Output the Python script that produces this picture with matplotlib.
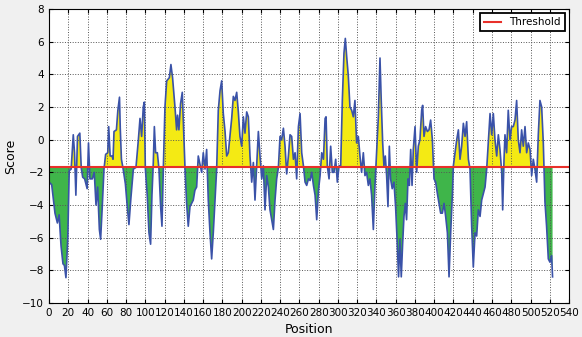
import numpy as np
from matplotlib import pyplot as plt

threshold = -1.7

position = [0, 2.8, 6.2, 8.7, 10.5, 12.5, 14.5, 16, 17.6, 19.5, 21, 23, 25.2, 26.5, 27.9, 29.6,
            32, 33.5, 35, 37, 39.6, 41, 42.5, 45, 47, 48.8, 50.5, 52.3, 53.6, 55.3, 57.1, 58.8,
            61, 62, 63.5, 65.5, 66.5, 67.5, 70, 71.5, 73.2, 74, 75.2, 77, 79.3, 81, 83, 85,
            87.6, 90.3, 92.8, 94.5, 96.2, 97.9, 99, 100, 102, 103.8, 105.5, 106.9, 108.3, 109.4,
            110.7, 112.5, 114.2, 115.9, 117.3, 118.7, 120.4, 122.2, 125, 126.6, 128.3, 130.8,
            132.5, 133.5, 134.9, 136.6, 138.4, 140.1, 141.2, 142.9, 144.6, 146.4, 148.1, 149.8,
            151.5, 153.3, 155, 156.7, 158.5, 160.2, 162, 163.7, 165.4, 167.2, 168.9, 170.6,
            172.4, 174.1, 175.8, 177.6, 179.3, 181, 182.8, 184.5, 186.2, 187.9, 189.7, 191.4,
            193.1, 194.9, 196.6, 198.3, 200.1, 201.8, 203.5, 205.3, 207, 208.7, 210.5, 212.2,
            213.9, 215.7, 217.4, 219.1, 220.9, 222.6, 224.3, 226.1, 227.8, 229.5, 231.2, 233,
            234.7, 236.4, 238.2, 239.9, 241.6, 243.4, 245.1, 246.8, 248.6, 250.3, 252, 253.8,
            255.5, 257.2, 259, 260.7, 262.4, 264.2, 265.9, 267.6, 269.4, 271.1, 272.8, 274.6,
            276.3, 278, 279.8, 281.5, 283.2, 285, 286.7, 287.7, 289, 290.8, 292.5, 294.2, 296,
            297.7, 299.4, 301.2, 302.9, 304.6, 306.3, 307.7, 309.1, 310.8, 312.5, 314.3, 316,
            317.7, 319.4, 321.2, 322.9, 324.6, 326.4, 328.1, 329.8, 331.6, 333.3, 335, 336.8,
            338.5, 340.2, 342, 343.7, 345, 346.5, 347.8, 349.2, 350.6, 352, 353.4, 354.7, 356.4,
            358.2, 359.9, 361.6, 363, 364.4, 365.8, 367.2, 368.6, 370, 371.3, 372.8, 374.2,
            375.6, 377, 378.3, 380.1, 381.8, 383.5, 385.2, 387, 388, 389.4, 391.1, 392.9, 394.6,
            396.3, 398.1, 399.8, 401.5, 403.3, 405, 406.7, 408.5, 410.2, 411.9, 413.7, 415.4,
            417.1, 418.9, 419.9, 421.6, 423.4, 425.1, 426.8, 428.5, 430.3, 432, 433.7, 435.5,
            437.2, 438.9, 440.6, 442.4, 444.1, 445.8, 447.6, 449.3, 451, 452.8, 454.5, 456.2,
            458, 459.7, 461.4, 463.1, 464.9, 466.6, 468.3, 470.1, 471.1, 472.5, 473.5, 475.2,
            476.9, 478.7, 480.4, 482.1, 483.9, 485.6, 487.3, 489.1, 490.8, 492.5, 494.3, 496,
            497.7, 499.5, 501.2, 502.9, 504.6, 506.4, 508.1, 509.8, 511.6, 513.3, 515, 516.7,
            518.5, 520.2, 521.9, 522.9]

score = [-2.6, -2.76, -4.5, -5.1, -4.6, -6.5, -7.6, -7.7, -8.45, -6.0, -1.9, -1.8, 0.3, -0.8, -3.4, 0.2,
         0.4, -1.75, -2.3, -2.4, -3.0, -0.2, -2.4, -2.4, -2.0, -4.0, -2.9, -5.5, -6.1, -4.1, -1.8, -0.9,
         -0.8, 0.8, -1.0, -1.0, -1.2, 0.5, 0.6, 1.8, 2.6, 0.7, -1.2, -1.8, -2.7, -3.9, -5.2, -3.6,
         -1.8, -1.7, 0.0, 1.3, 0.2, 2.0, 2.3, -1.7, -3.4, -5.7, -6.4, -3.4, -1.4, 0.8,
         -0.8, -0.8, -1.8, -4.1, -5.3, -1.8, 2.0, 3.6, 3.8, 4.6, 3.8, 2.0,
         0.6, 1.5, 0.6, 2.2, 2.9, 0.0, -1.7, -3.9, -5.3, -4.1, -3.9, -3.7,
         -3.1, -2.9, -1.0, -1.5, -2.0, -0.8, -1.8, -0.6, -3.7, -5.7, -7.3, -5.7,
         -3.7, -1.8, 1.8, 3.0, 3.6, 1.6, 0.5, -1.0, -0.8, 0.2, 1.3, 2.65,
         2.4, 2.9, 1.7, 0.2, -0.4, 1.4, 0.4, 1.7, 1.4, -1.0, -2.6, -1.4,
         -3.7, -1.6, 0.5, -1.0, -2.4, -1.6, -4.3, -2.2, -2.9, -4.3, -4.9, -5.5,
         -3.7, -2.4, -1.7, 0.2, 0.0, 0.7, -0.4, -2.1, -1.0, 0.3, 0.2, -1.2,
         -0.8, -2.4, 0.8, 1.6, -0.8, -1.6, -2.6, -2.8, -2.4, -2.5, -2.0, -2.8,
         -3.4, -4.9, -3.1, -2.2, -0.8, -1.2, 1.3, 1.4, -1.6, -2.4, -0.4, -2.0, -2.0,
         -1.2, -2.6, -1.6, -1.6, 2.4, 5.3, 6.2, 5.1, 3.9, 2.0, 1.8, 1.4,
         2.4, -0.2, 0.2, -1.0, -2.0, -0.8, -2.2, -2.0, -2.8, -2.4, -3.4, -5.5,
         -2.8, -0.8, 1.4, 5.0, 2.4, -0.2, -1.6, -1.0, -2.2, -4.1, -0.4, -2.4, -3.0,
         -2.6, -4.1, -6.3, -8.4, -6.1, -8.4, -6.4, -4.7, -3.9, -4.9, -2.4, -2.8,
         -0.6, -2.8, -0.6, 0.8, -2.0, -0.4, 0.0, 1.8, 2.1, 0.2, 0.8, 0.5, 0.6,
         1.2, 0.0, -2.4, -2.6, -3.3, -3.9, -4.5, -4.5, -3.9, -4.7, -5.7, -8.4,
         -5.7, -3.3, -1.6, -0.8, 0.0, 0.6, -1.2, -0.4, 1.0, 0.2, 1.1, -1.2,
         -1.8, -5.3, -7.8, -5.7, -5.9, -4.3, -4.7, -3.7, -3.3, -2.9, -1.8, -0.2,
         1.6, 0.3, 1.6, 0.0, -1.0, 0.3, -0.6, -2.0, -4.3, -1.2, 0.3, -0.8,
         1.8, 0.0, 0.8, 0.8, 1.2, 2.4, 0.0, -0.8, 0.6, -0.4, 0.8, -0.8,
         -0.2, -0.6, -2.2, -1.2, -1.8, -2.6, 0.3, 2.4, 2.0, -0.2, -3.8, -5.3,
         -7.3, -7.5, -7.1, -8.4]

x = np.array(position)
y = np.array(score)

fig = plt.figure(figsize=(5.82, 3.37), dpi=100, facecolor='#f0f0f0')
ax = fig.add_axes([0.0842, 0.1009, 0.8935, 0.8724])

ax.fill_between(x, y, threshold, where=y >= threshold, interpolate=True, color='#f4ea14', linewidth=0)
ax.fill_between(x, y, threshold, where=y <= threshold, interpolate=True, color='#3fb54a', linewidth=0)
ax.plot(x, y, color='#3a52a8', linewidth=1.2)
ax.axhline(threshold, color='#e8302a', linewidth=1.5, label='Threshold')

ax.set_xlim(0, 540)
ax.set_ylim(-10, 8)
ax.set_xticks(np.arange(0, 541, 20))
ax.set_yticks(np.arange(-10, 9, 2))
ax.tick_params(direction='in', top=True, right=True, labelsize=7.5, length=3)
ax.grid(True, linestyle=':', color='#555555', linewidth=0.7)
ax.set_xlabel('Position', fontsize=9)
ax.set_ylabel('Score', fontsize=9)
for s in ax.spines.values():
    s.set_color('black')

leg = ax.legend(loc='upper right', fontsize=7.5, fancybox=False, framealpha=1,
                handlelength=1.6, borderaxespad=0.4)
leg.get_frame().set_edgecolor('black')
leg.get_frame().set_linewidth(1.3)

plt.savefig('out.png', facecolor=fig.get_facecolor())
